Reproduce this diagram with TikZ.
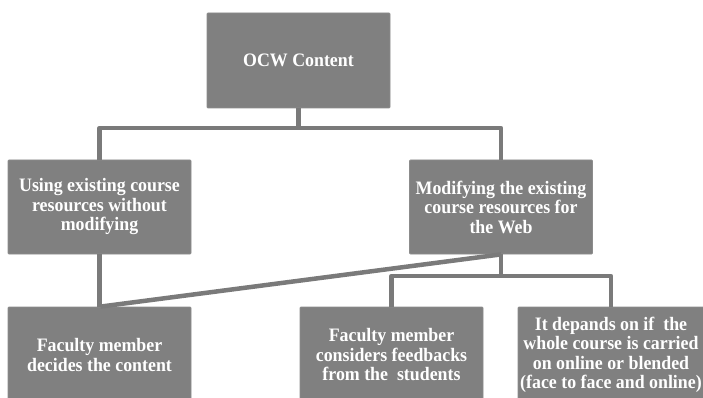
\documentclass[tikz,border=0pt]{standalone}
\usepackage{fontspec}
\setmainfont[FakeStretch=0.94]{Liberation Serif}
\begin{document}
\begin{tikzpicture}[x=1pt,y=-1pt,
  box/.style={draw=black!45, line width=0.8pt, fill=black!50, text=white, rounded corners=1pt,
    font=\bfseries\fontsize{19}{19.5}\selectfont, align=center, inner sep=0pt},
  conn/.style={draw=black!52, line width=4.5pt, line cap=butt, line join=round}]
\useasboundingbox (0,0) rectangle (703,398);
\begin{scope}
\clip (0,0) rectangle (703,398);
\node[box, minimum width=183pt, minimum height=95pt] (top) at (298.5,60.5) {OCW Content};
\node[box, minimum width=183pt, minimum height=94pt] (l1) at (99.5,207) {Using existing course\\resources without\\modifying};
\node[box, minimum width=183pt, minimum height=94pt] (r1) at (501,207) {Modifying the existing\\course resources for\\the Web};
\node[box, minimum width=183pt, minimum height=96pt] (b1) at (99.5,355) {Faculty member\\decides the content};
\node[box, minimum width=183pt, minimum height=96pt] (b2) at (391.5,355) {Faculty member\\considers feedbacks\\from the\ \ students};
\node[box, minimum width=186pt, minimum height=96pt] (b3) at (611,355) {It depands on if\ \ the\\whole course is carried\\on online or blended\\(face to face and online)};
\coordinate (j1) at (298.5,128);
\coordinate (j2) at (501,276);
\draw[conn] (l1.north) |- (j1) -| (r1.north);
\draw[conn] (top.south) -- (j1);
\draw[conn] (l1.south) -- (b1.north);
\draw[conn] (r1.south) -- ([xshift=1pt]b1.north);
\draw[conn] (b2.north) |- (j2) -| (b3.north);
\draw[conn] (r1.south) -- (j2);
\end{scope}
\end{tikzpicture}
\end{document}
